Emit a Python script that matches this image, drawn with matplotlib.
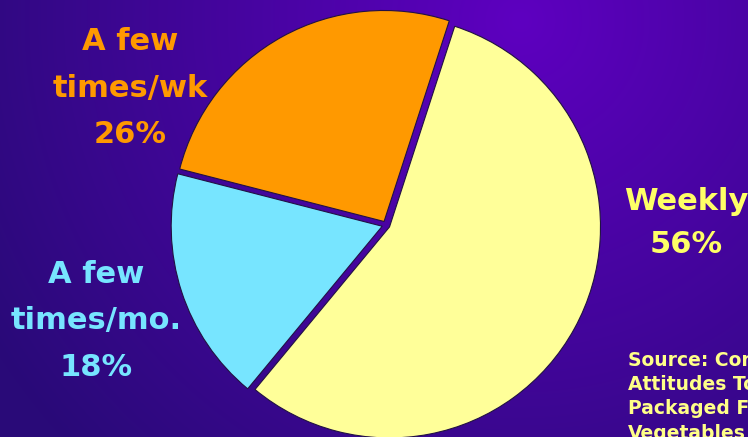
import numpy as np
import matplotlib.pyplot as plt
from matplotlib.colors import to_rgb

# data
labels = ['Weekly', 'A few\ntimes/wk', 'A few\ntimes/mo.']
shares = [56, 26, 18]
slice_colors = ['#FFFF99', '#FF9900', '#77E5FF']
text_colors = ['#FFFF66', '#FF9900', '#77E5FF']
source = 'Source: Consumer\nAttitudes Toward\nPackaged Fresh\nVegetables'

W, H = 748, 437
fig = plt.figure(figsize=(W / 100, H / 100), dpi=100)
ax = fig.add_axes([0, 0, 1, 1])

# purple background, brightest near the top right of centre
yy, xx = np.mgrid[0:H, 0:W]
dist = np.hypot(xx - 520, yy - 20) / 620.0
t = np.clip(dist, 0, 1)[..., None]
light = np.array(to_rgb('#5e00c0'))
dark = np.array(to_rgb('#290a78'))
bg = light * (1 - t) + dark * t
ax.imshow(bg, extent=(0, W, 0, H), origin='upper', zorder=0, aspect='auto')

# explode is in data units here (1 unit = 1 px)
ax.pie(shares, colors=slice_colors, startangle=-129.6, counterclock=True,
       center=(386, 212), radius=211, explode=[4] * len(shares),
       wedgeprops=dict(edgecolor='#221144', linewidth=0.8, zorder=2))

# slice labels: label text + percentage
label_pos = [(686, 214), (130, 349), (96, 116)]
spacing = [1.6, 1.75, 1.75]
for (x, y), lab, val, col, ls in zip(label_pos, labels, shares,
                                     text_colors, spacing):
    ax.text(x, y, f'{lab}\n{val}%', color=col, fontsize=22,
            fontweight='bold', ha='center', va='center',
            multialignment='center', linespacing=ls, zorder=3)

# source note runs off the right/bottom edge, as on the original slide
ax.text(628, 437 - 351, source, color='#FFFF88', fontsize=13.5,
        fontweight='bold', ha='left', va='top', linespacing=1.35,
        zorder=3)

ax.set_xlim(0, W)
ax.set_ylim(0, H)
ax.set_aspect('auto')
ax.axis('off')

fig.savefig('out.png', dpi=100)
